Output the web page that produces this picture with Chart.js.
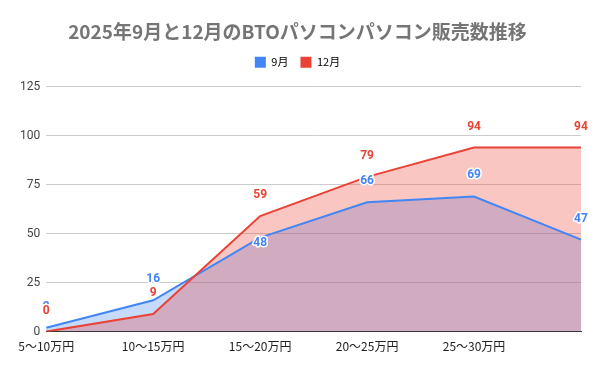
<!DOCTYPE html>
<html>
<head>
<meta charset="utf-8">
<script src="https://cdn.jsdelivr.net/npm/chart.js@4"></script>
<style>
  html, body { margin: 0; padding: 0; background: #fff; }
  #wrap { width: 600px; height: 371px; position: relative; }
</style>
</head>
<body>
<div id="wrap"><canvas id="myChart"></canvas></div>
<script>
var labels = ['5〜10万円', '10〜15万円', '15〜20万円', '20〜25万円', '25〜30万円', ''];
var sept = [2, 16, 48, 66, 69, 47];
var dec = [0, 9, 59, 79, 94, 94];
// label shift (px, + = lower) per point, the 48 label sits lower to avoid the red line
var septLabelShift = [0, 0, 26, 0, 0, 0];
var decLabelShift = [0, 0, 0, 0, 0, 0];

var blue = '#4285f4';
var red = '#ea4335';

var valueLabels = {
  id: 'valueLabels',
  afterDatasetsDraw: function (chart) {
    var c = chart.ctx;
    c.save();
    c.font = 'bold 12px Roboto, Arial, sans-serif';
    c.textAlign = 'center';
    c.textBaseline = 'middle';
    c.lineJoin = 'round';
    chart.data.datasets.forEach(function (ds, di) {
      var meta = chart.getDatasetMeta(di);
      meta.data.forEach(function (pt, i) {
        var y = pt.y - 21 + ds.labelShift[i];
        var txt = String(ds.data[i]);
        c.lineWidth = 3;
        c.strokeStyle = '#fff';
        c.strokeText(txt, pt.x, y);
        c.fillStyle = ds.borderColor;
        c.fillText(txt, pt.x, y);
      });
    });
    c.restore();
  }
};

// extra gap under the legend
var legendGap = {
  id: 'legendGap',
  beforeInit: function (chart) {
    var fit = chart.legend.fit;
    chart.legend.fit = function () {
      fit.bind(chart.legend)();
      this.height += 9;
    };
  }
};

var ctx = document.getElementById('myChart');

var myChart = new Chart(ctx, {
  type: 'line',
  data: {
    labels: labels,
    datasets: [{
      label: '9月',
      data: sept,
      labelShift: septLabelShift,
      borderColor: blue,
      backgroundColor: 'rgba(66,133,244,0.3)',
      fill: 'origin',
      borderWidth: 2,
      pointRadius: 0,
      tension: 0,
      order: 1
    }, {
      label: '12月',
      data: dec,
      labelShift: decLabelShift,
      borderColor: red,
      backgroundColor: 'rgba(234,67,53,0.3)',
      fill: 'origin',
      borderWidth: 2,
      pointRadius: 0,
      tension: 0,
      order: 0
    }]
  },
  options: {
    responsive: true,
    maintainAspectRatio: false,
    animation: false,
    layout: { padding: { left: 14, right: 19, top: 10, bottom: 17 } },
    plugins: {
      filler: { drawTime: 'beforeDatasetsDraw' },
      title: {
        display: true,
        text: '2025年9月と12月のBTOパソコンパソコン販売数推移',
        color: '#757575',
        font: { family: '"Noto Sans CJK JP", Roboto, Arial, sans-serif', size: 19, weight: 'bold' },
        padding: { top: 10, bottom: 2 }
      },
      legend: {
        labels: {
          sort: function (a, b) { return a.datasetIndex - b.datasetIndex; },
          boxWidth: 11,
          boxHeight: 11,
          padding: 12,
          color: '#222',
          font: { family: '"Noto Sans CJK JP", Roboto, Arial, sans-serif', size: 11 },
          generateLabels: function (chart) {
            return chart.data.datasets.map(function (ds, i) {
              return { text: ds.label, fillStyle: ds.borderColor, strokeStyle: ds.borderColor, lineWidth: 0, datasetIndex: i };
            });
          }
        }
      },
      tooltip: { enabled: false }
    },
    scales: {
      x: {
        offset: false,
        grid: { display: false },
        border: { display: true, color: '#333', width: 1 },
        ticks: {
          color: '#222',
          maxRotation: 0,
          autoSkip: false,
          padding: 0,
          font: { family: '"Noto Sans CJK JP", Roboto, Arial, sans-serif', size: 12 }
        }
      },
      y: {
        min: 0,
        max: 125,
        border: { display: false },
        grid: {
          color: function (c) { return c.tick.value === 0 ? '#333' : '#cccccc'; },
          drawTicks: false
        },
        ticks: {
          stepSize: 25,
          padding: 6,
          color: '#444',
          font: { family: 'Roboto, Arial, sans-serif', size: 12 }
        }
      }
    }
  },
  plugins: [valueLabels, legendGap]
});
</script>
</body>
</html>
